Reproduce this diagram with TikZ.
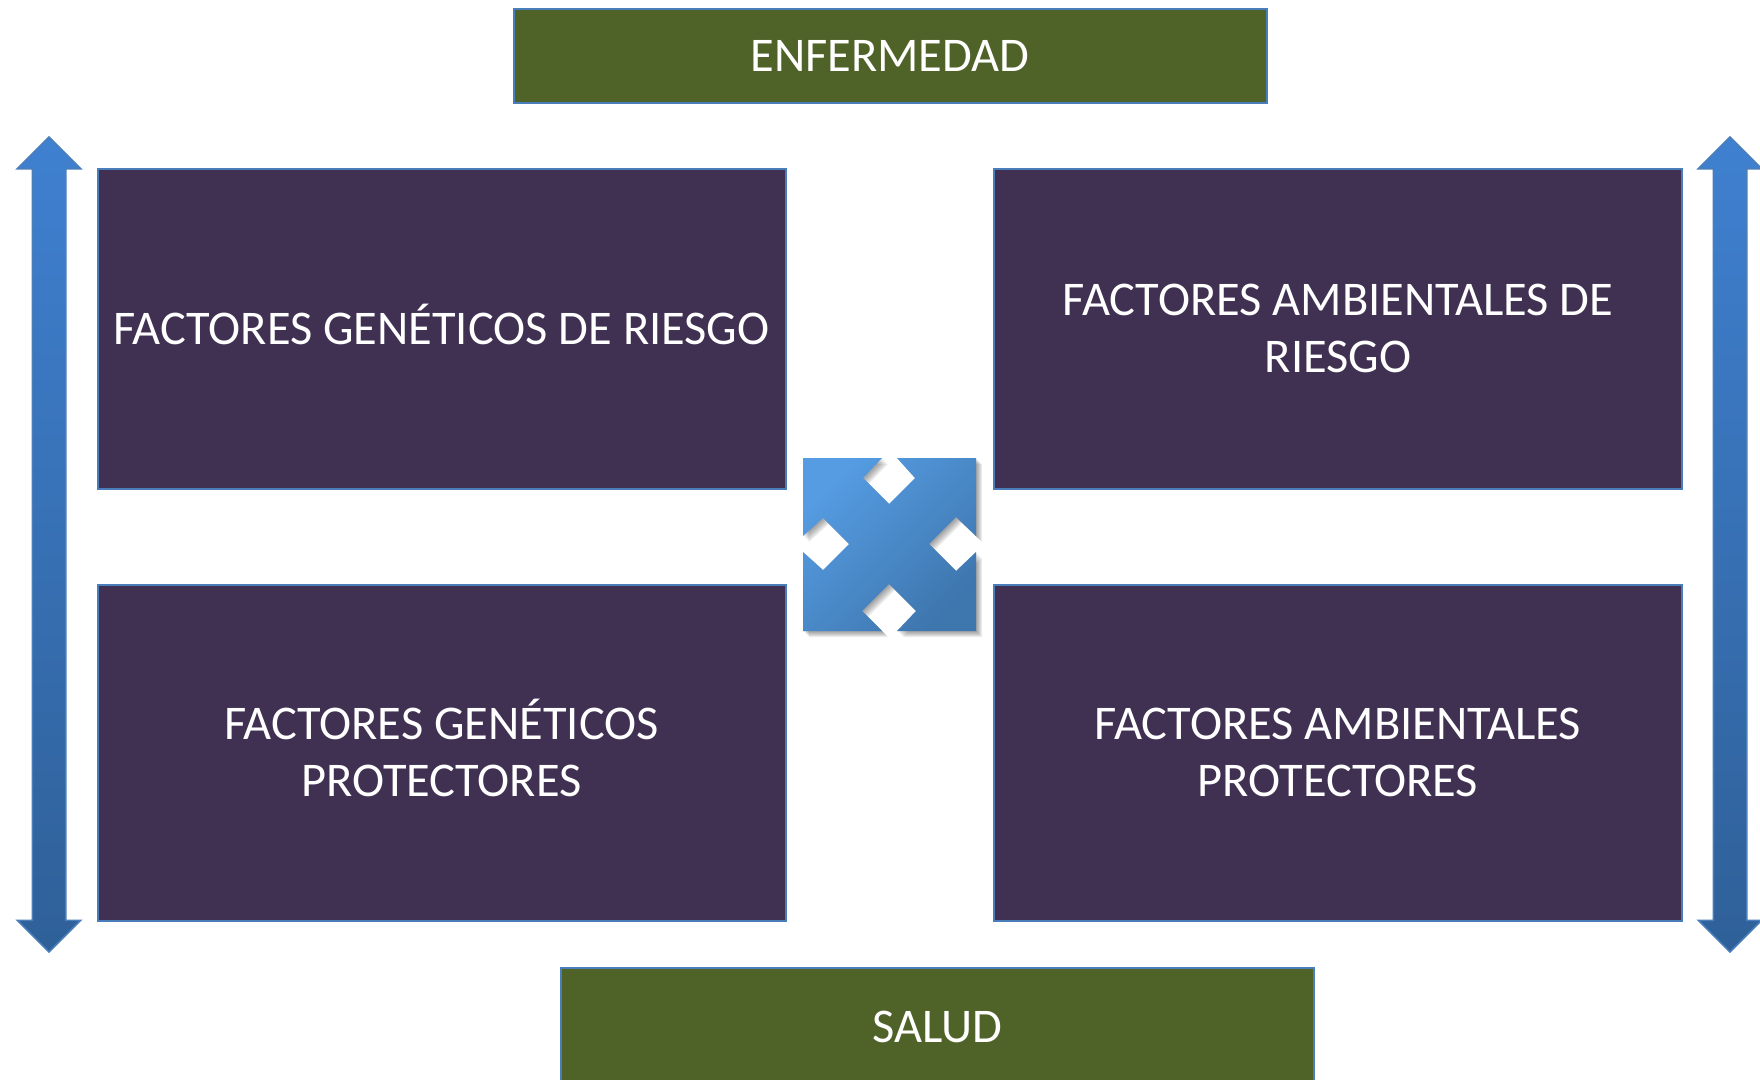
\documentclass[tikz,border=0pt]{standalone}
\usepackage{fontspec}
\setmainfont{Carlito}
\usetikzlibrary{shapes.arrows}
\definecolor{factorfill}{HTML}{403152}
\definecolor{poolfill}{HTML}{4F6228}
\definecolor{edgeblue}{HTML}{4A7EBB}
\definecolor{crossa}{HTML}{559CE2}
\definecolor{crossb}{HTML}{3E76AE}
\definecolor{arrowa}{HTML}{3F80D0}
\definecolor{arrowb}{HTML}{2F6098}
\begin{document}
\begin{tikzpicture}[
            x=1pt, y=-1pt,
            label box/.style={draw=edgeblue, line width=2pt, text=white, align=center, inner sep=0pt,
              font=\fontsize{48.4}{57.8}\selectfont},
            factor box/.style={label box, fill=factorfill, minimum width=688pt},
            pool box/.style={label box, fill=poolfill, minimum width=753pt},
            scale arrow/.style={double arrow, shape border rotate=90, draw=edgeblue, line width=1.5pt,
              inner sep=16pt, minimum height=815pt, minimum width=62pt, double arrow head extend=15pt,
              double arrow head indent=0pt, top color=arrowa, bottom color=arrowb}
            ]
            \useasboundingbox (0,0) rectangle (1760,1079);
            \node[pool box, minimum height=94pt] (enfermedad) at (890,55.5) {ENFERMEDAD};
            \node[pool box, minimum height=122pt] (salud) at (937.5,1029) {};
            \node[text=white, font=\fontsize{48.4}{57.8}\selectfont, inner sep=0pt] (saludtext) at (937.5,1027) {SALUD};
            \node[factor box, minimum height=320pt] (genriesgo) at (441.5,328.5) {FACTORES GEN\smash{É}TICOS DE RIESGO};
            \node[factor box, minimum height=320pt] (ambriesgo) at (1338,328.5) {FACTORES AMBIENTALES DE\\RIESGO};
            \node[factor box, minimum height=336pt] (genprot) at (441.5,752.5) {FACTORES GEN\smash{É}TICOS\\PROTECTORES};
            \node[factor box, minimum height=336pt] (ambprot) at (1338,752.5) {FACTORES AMBIENTALES\\PROTECTORES};
            \node[scale arrow] (leftarrow) at (49,544.5) {};
            \node[scale arrow] (rightarrow) at (1730,544.5) {};
            % soft shadow under the cross
            \foreach \shift in {1,2,...,6} {
              \fill[black, opacity=0.07, even odd rule, shift={(\shift,\shift)}]
                (803,458) -- (882,458) -- (863,478) -- (889,504) -- (915,478) -- (897,458) -- (976,458)
                -- (976,536) -- (956,517) -- (929,544) -- (956,571) -- (976,552) -- (976,631)
                -- (897,631) -- (916,611) -- (889,584) -- (862,611) -- (882,631) -- (803,631)
                -- (803,552) -- (823,570) -- (849,544) -- (823,518) -- (803,536) -- cycle;
            }
            \shade[left color=crossa, right color=crossb, shading angle=45]
                (803,458) -- (882,458) -- (863,478) -- (889,504) -- (915,478) -- (897,458) -- (976,458)
                -- (976,536) -- (956,517) -- (929,544) -- (956,571) -- (976,552) -- (976,631)
                -- (897,631) -- (916,611) -- (889,584) -- (862,611) -- (882,631) -- (803,631)
                -- (803,552) -- (823,570) -- (849,544) -- (823,518) -- (803,536) -- cycle;
        \end{tikzpicture}
\end{document}
